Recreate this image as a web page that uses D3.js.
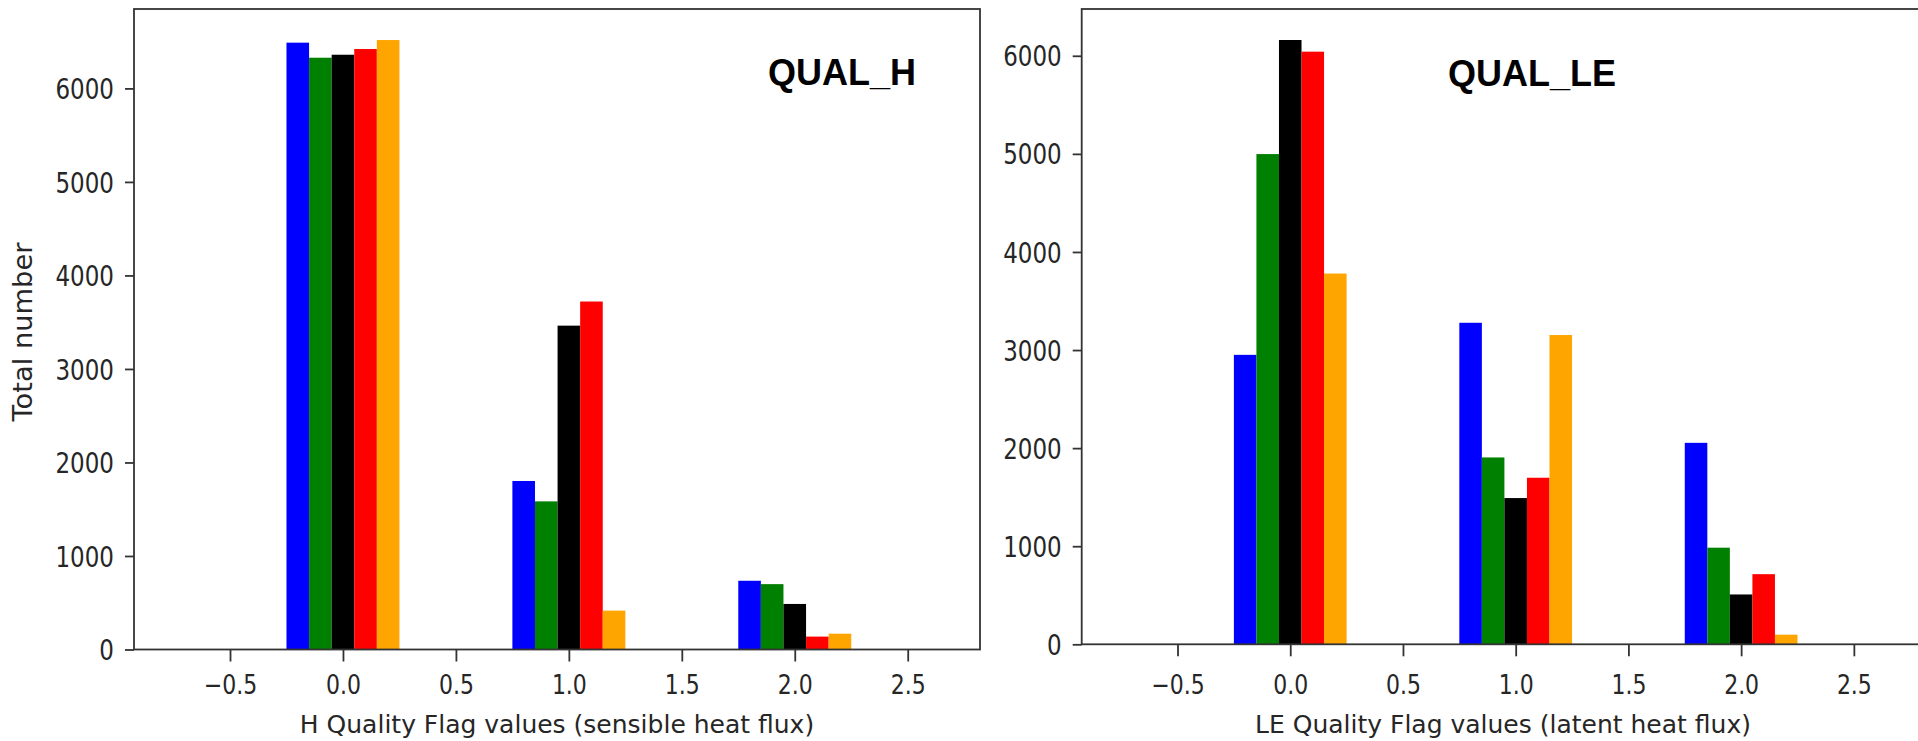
<!DOCTYPE html>
<html>
<head>
<meta charset="utf-8">
<script src="https://cdn.jsdelivr.net/npm/d3@7"></script>
<style>
  html, body { margin: 0; padding: 0; background: #fff; overflow: hidden; }
  svg { display: block; }
  .tick text { font-family: "DejaVu Sans", sans-serif; fill: #262626; }
  .axis-label { font-family: "DejaVu Sans", sans-serif; fill: #262626; }
  .panel-title { font-family: "Liberation Sans", Arial, sans-serif; font-weight: bold; fill: #000; }
</style>
</head>
<body>
<svg id="chart" width="1918" height="741"></svg>
<script>
// Quality flag categories on the x axis
const flags = [0, 1, 2];

// One colour per series (five series per flag)
const seriesColors = ["#0000ff", "#008000", "#000000", "#ff0000", "#ffa500"];

// Counts per series, indexed by flag 0, 1, 2 — sensible heat flux
const qualH = [
  [6489, 1802, 735],
  [6328, 1584, 699],
  [6360, 3463, 487],
  [6421, 3721, 138],
  [6517, 416, 169]
];

// Counts per series, indexed by flag 0, 1, 2 — latent heat flux
const qualLE = [
  [2951, 3278, 2054],
  [4998, 1905, 985],
  [6161, 1491, 508],
  [6042, 1698, 715],
  [3780, 3153, 98]
];

const xTickValues = [-0.5, 0.0, 0.5, 1.0, 1.5, 2.0, 2.5];
const yTickValues = [0, 1000, 2000, 3000, 4000, 5000, 6000];

const panels = [
  {
    data: qualH, title: "QUAL_H",
    xLabel: "H Quality Flag values (sensible heat flux)",
    yLabel: "Total number",
    left: 134, right: 980, top: 9, bottom: 649.5, yMax: 6849,
    titleX: 768, titleY: 85, xLabelX: 557, xLabelY: 733, xTickTextY: 44.5
  },
  {
    data: qualLE, title: "QUAL_LE",
    xLabel: "LE Quality Flag values (latent heat flux)",
    yLabel: null,
    left: 1081.7, right: 1926, top: 9, bottom: 644.3, yMax: 6477,
    titleX: 1448, titleY: 86, xLabelX: 1503, xLabelY: 733, xTickTextY: 49.7
  }
];

const xDomain = [-0.925, 2.82];
const barWidth = 0.1;
const offsets = [-0.2, -0.1, 0, 0.1, 0.2];
const xTickFont = 22;
const yTickFont = 23;
const tickStretch = 1.22;

const svg = d3.select("#chart");

panels.forEach(p => {
  const x = d3.scaleLinear().domain(xDomain).range([p.left, p.right]);
  const y = d3.scaleLinear().domain([0, p.yMax]).range([p.bottom, p.top]);
  const g = svg.append("g");

  // bars: one group per series
  p.data.forEach((vals, si) => {
    g.append("g")
      .selectAll("rect")
      .data(flags.map((f, i) => ({ f, v: vals[i] })))
      .join("rect")
      .attr("x", d => x(d.f + offsets[si] - barWidth / 2))
      .attr("width", d => x(d.f + offsets[si] + barWidth / 2) - x(d.f + offsets[si] - barWidth / 2))
      .attr("y", d => y(d.v))
      .attr("height", d => y(0) - y(d.v))
      .attr("fill", seriesColors[si]);
  });

  // frame
  g.append("rect")
    .attr("x", p.left).attr("y", p.top)
    .attr("width", p.right - p.left).attr("height", p.bottom - p.top)
    .attr("fill", "none").attr("stroke", "#333").attr("stroke-width", 1.8);

  // x axis
  const xa = g.append("g")
    .attr("transform", `translate(0,${p.bottom})`)
    .call(d3.axisBottom(x).tickValues(xTickValues).tickFormat(d3.format(".1f")).tickSize(12).tickSizeOuter(0));
  xa.select(".domain").remove();
  xa.selectAll(".tick line").attr("stroke", "#333").attr("stroke-width", 1.8);
  xa.selectAll(".tick text")
    .attr("font-size", xTickFont)
    .attr("y", p.xTickTextY / tickStretch)
    .attr("dy", 0)
    .attr("transform", `scale(1,${tickStretch})`);

  // y axis
  const ya = g.append("g")
    .attr("transform", `translate(${p.left},0)`)
    .call(d3.axisLeft(y).tickValues(yTickValues).tickFormat(d3.format("d")).tickSize(9).tickSizeOuter(0));
  ya.select(".domain").remove();
  ya.selectAll(".tick line").attr("stroke", "#333").attr("stroke-width", 1.8);
  ya.selectAll(".tick text")
    .attr("font-size", yTickFont)
    .attr("x", -20)
    .attr("dy", "0.36em")
    .attr("transform", `scale(1,${tickStretch})`);

  // x axis label
  g.append("text")
    .attr("class", "axis-label")
    .attr("x", p.xLabelX).attr("y", p.xLabelY)
    .attr("text-anchor", "middle")
    .attr("font-size", 25)
    .text(p.xLabel);

  // y axis label
  if (p.yLabel) {
    g.append("text")
      .attr("class", "axis-label")
      .attr("transform", "translate(32,332) rotate(-90) scale(1.05,1)")
      .attr("text-anchor", "middle")
      .attr("font-size", 26)
      .text(p.yLabel);
  }

  // panel title
  g.append("text")
    .attr("class", "panel-title")
    .attr("x", p.titleX).attr("y", p.titleY)
    .attr("font-size", 36)
    .text(p.title);
});
</script>
</body>
</html>
